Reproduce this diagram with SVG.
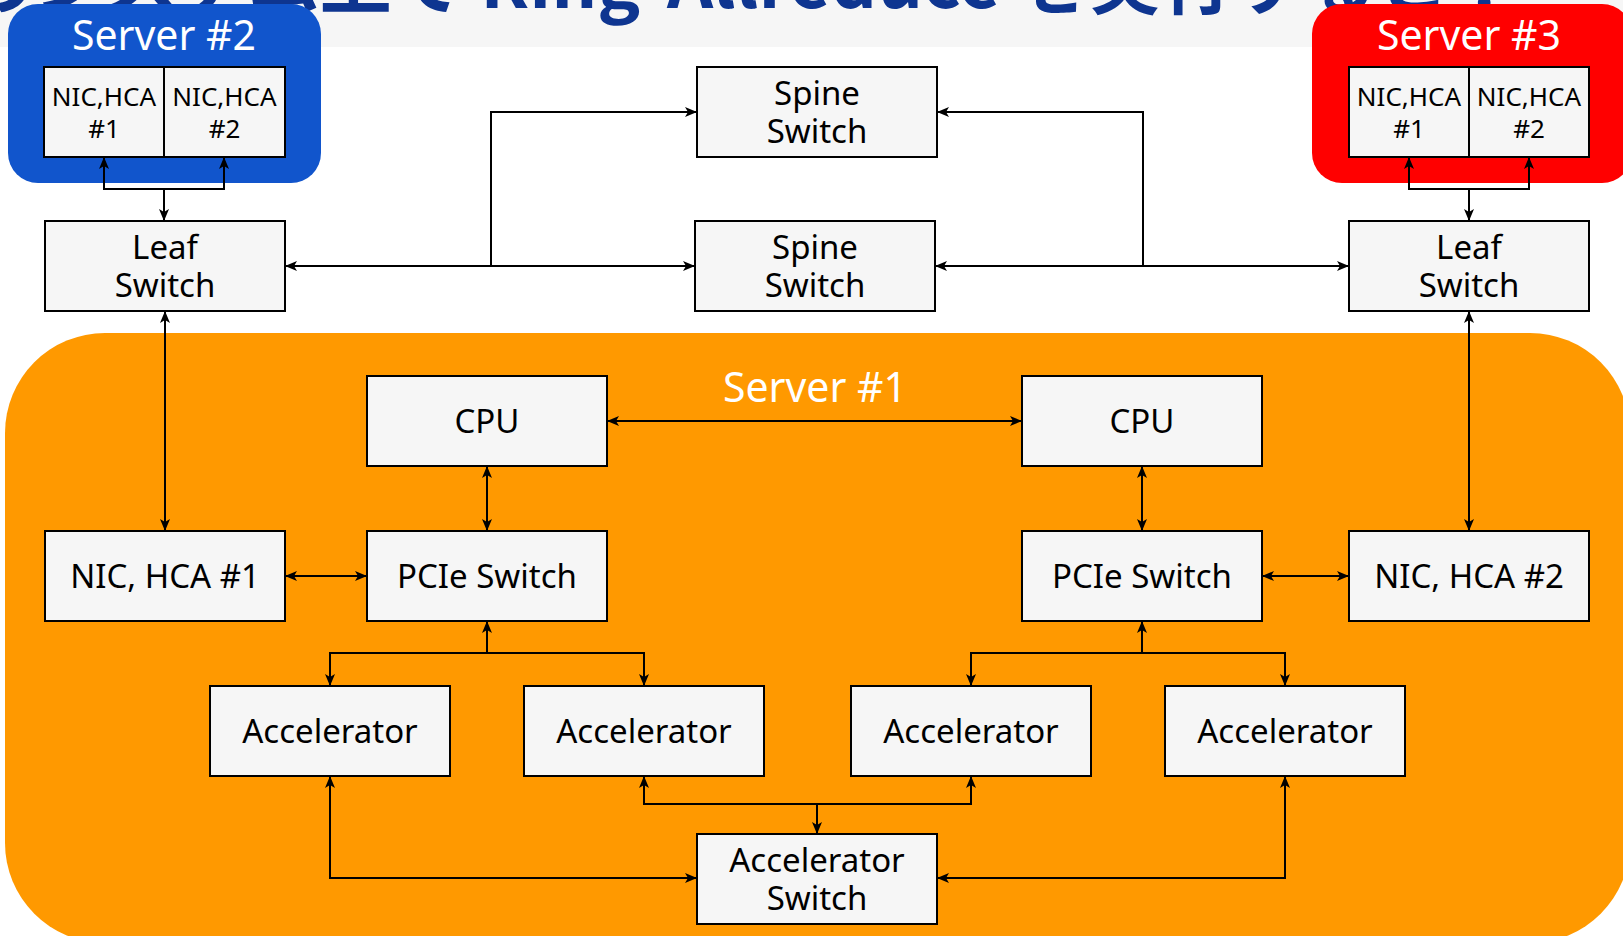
<svg xmlns="http://www.w3.org/2000/svg" width="1623" height="936" viewBox="0 0 1623 936">
<style>
.box{fill:#f6f6f6;stroke:#000;stroke-width:2}
.lbl{font-family:"Noto Sans","DejaVu Sans",sans-serif;font-size:33px;fill:#000;text-anchor:middle}
.sm{font-family:"Noto Sans","DejaVu Sans",sans-serif;font-size:26px;fill:#000;text-anchor:middle}
.srv{font-family:"Noto Sans","DejaVu Sans",sans-serif;font-size:41px;fill:#fff;text-anchor:middle}
.ttl{font-family:"Noto Sans CJK JP","Noto Sans",sans-serif;font-size:72px;font-weight:700;fill:#0e3590}
.cn path{fill:none;stroke:#000;stroke-width:2}
.bi{marker-start:url(#ah);marker-end:url(#ah)}
.en{marker-end:url(#ah)}
.st{marker-start:url(#ah)}
</style>
<defs>
<marker id="ah" markerUnits="userSpaceOnUse" markerWidth="12" markerHeight="10" viewBox="0 0 12 10" refX="12" refY="5" orient="auto-start-reverse">
<path d="M0,0 L12,5 L0,10 L3,5 Z" fill="#000"/>
</marker>
</defs>
<rect x="0" y="0" width="1623" height="47" fill="#f6f6f6"/>
<text class="ttl" x="-38" y="8">のシステム上で Ring-Allreduce を実行すると？</text>

<g id="server1"><rect x="5" y="333" width="1625" height="610" rx="100" fill="#ff9900"/><text class="srv" x="815" y="402">Server #1</text></g>
<g id="server2"><rect x="8" y="4" width="313" height="179" rx="30" fill="#1155cc"/><text class="srv" x="164" y="50">Server #2</text></g>
<g id="server3"><rect x="1312" y="4" width="320" height="179" rx="30" fill="#ff0000"/><text class="srv" x="1469" y="50">Server #3</text></g>

<g class="cn" id="connectors">
<path class="bi" d="M104,157 V189 H224 V157"/>
<path class="en" d="M164,189 V221"/>
<path class="bi" d="M1409,157 V189 H1529 V157"/>
<path class="en" d="M1469,189 V221"/>
<path class="bi" d="M165,311 V531"/>
<path class="bi" d="M1469,311 V531"/>
<path class="bi" d="M285,266 H695"/>
<path class="en" d="M491,266 V112 H697"/>
<path class="bi" d="M935,266 H1349"/>
<path class="en" d="M1143,266 V112 H937"/>
<path class="bi" d="M607,421 H1022"/>
<path class="bi" d="M487,466 V531"/>
<path class="bi" d="M1142,466 V531"/>
<path class="bi" d="M285,576 H367"/>
<path class="bi" d="M1262,576 H1349"/>
<path class="st" d="M487,621 V653"/>
<path class="bi" d="M330,686 V653 H644 V686"/>
<path class="st" d="M1142,621 V653"/>
<path class="bi" d="M971,686 V653 H1285 V686"/>
<path class="bi" d="M330,776 V878 H697"/>
<path class="bi" d="M1285,776 V878 H937"/>
<path class="bi" d="M644,776 V804 H971 V776"/>
<path class="en" d="M817,804 V834"/>
</g>

<g id="s2nic1"><rect class="box" x="44" y="67" width="120" height="90"/><text class="sm" x="104" y="106">NIC,HCA</text><text class="sm" x="104" y="137.5">#1</text></g>
<g id="s2nic2"><rect class="box" x="164" y="67" width="121" height="90"/><text class="sm" x="224.5" y="106">NIC,HCA</text><text class="sm" x="224.5" y="137.5">#2</text></g>
<g id="s3nic1"><rect class="box" x="1349" y="67" width="120" height="90"/><text class="sm" x="1409" y="106">NIC,HCA</text><text class="sm" x="1409" y="137.5">#1</text></g>
<g id="s3nic2"><rect class="box" x="1469" y="67" width="120" height="90"/><text class="sm" x="1529" y="106">NIC,HCA</text><text class="sm" x="1529" y="137.5">#2</text></g>

<g id="leafL"><rect class="box" x="45" y="221" width="240" height="90"/><text class="lbl" x="165" y="259">Leaf</text><text class="lbl" x="165" y="297">Switch</text></g>
<g id="spine1"><rect class="box" x="697" y="67" width="240" height="90"/><text class="lbl" x="817" y="105">Spine</text><text class="lbl" x="817" y="143">Switch</text></g>
<g id="spine2"><rect class="box" x="695" y="221" width="240" height="90"/><text class="lbl" x="815" y="259">Spine</text><text class="lbl" x="815" y="297">Switch</text></g>
<g id="leafR"><rect class="box" x="1349" y="221" width="240" height="90"/><text class="lbl" x="1469" y="259">Leaf</text><text class="lbl" x="1469" y="297">Switch</text></g>

<g id="cpuL"><rect class="box" x="367" y="376" width="240" height="90"/><text class="lbl" x="487" y="433">CPU</text></g>
<g id="cpuR"><rect class="box" x="1022" y="376" width="240" height="90"/><text class="lbl" x="1142" y="433">CPU</text></g>
<g id="nic1"><rect class="box" x="45" y="531" width="240" height="90"/><text class="lbl" x="165" y="588">NIC, HCA #1</text></g>
<g id="pcieL"><rect class="box" x="367" y="531" width="240" height="90"/><text class="lbl" x="487" y="588">PCIe Switch</text></g>
<g id="pcieR"><rect class="box" x="1022" y="531" width="240" height="90"/><text class="lbl" x="1142" y="588">PCIe Switch</text></g>
<g id="nic2"><rect class="box" x="1349" y="531" width="240" height="90"/><text class="lbl" x="1469" y="588">NIC, HCA #2</text></g>
<g id="acc1"><rect class="box" x="210" y="686" width="240" height="90"/><text class="lbl" x="330" y="743">Accelerator</text></g>
<g id="acc2"><rect class="box" x="524" y="686" width="240" height="90"/><text class="lbl" x="644" y="743">Accelerator</text></g>
<g id="acc3"><rect class="box" x="851" y="686" width="240" height="90"/><text class="lbl" x="971" y="743">Accelerator</text></g>
<g id="acc4"><rect class="box" x="1165" y="686" width="240" height="90"/><text class="lbl" x="1285" y="743">Accelerator</text></g>
<g id="accsw"><rect class="box" x="697" y="834" width="240" height="90"/><text class="lbl" x="817" y="872">Accelerator</text><text class="lbl" x="817" y="910">Switch</text></g>
</svg>
